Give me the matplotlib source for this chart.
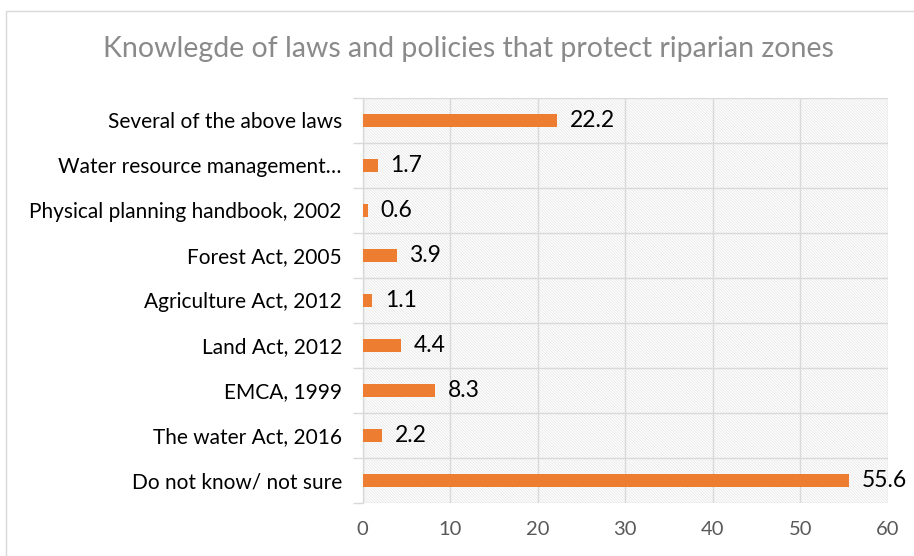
import matplotlib
matplotlib.use("Agg")
import matplotlib.pyplot as plt
from matplotlib.patches import Rectangle

categories = [
    "Do not know/ not sure",
    "The water Act, 2016",
    "EMCA, 1999",
    "Land Act, 2012",
    "Agriculture Act, 2012",
    "Forest Act, 2005",
    "Physical planning handbook, 2002",
    "Water resource management\u2026",
    "Several of the above laws",
]
values = [55.6, 2.2, 8.3, 4.4, 1.1, 3.9, 0.6, 1.7, 22.2]
x_ticks = [0, 10, 20, 30, 40, 50, 60]

W, H = 914, 556
fig = plt.figure(figsize=(W / 100, H / 100), dpi=100)
plt.rcParams["font.family"] = ["Lato", "DejaVu Sans"]
plt.rcParams["hatch.color"] = "#e4e4e4"
plt.rcParams["hatch.linewidth"] = 0.5

# chart frame
fig.patches.append(Rectangle((6 / W, -0.01), 1.0, 1 - 11 / H + 0.01,
                             transform=fig.transFigure, fill=False,
                             edgecolor="#d9d9d9", linewidth=1.0))

left, right, top, bottom = 362.7, 887.7, 98, 502.7
ax = fig.add_axes([left / W, 1 - bottom / H, (right - left) / W, (bottom - top) / H])

# finely hatched plot background
ax.add_patch(Rectangle((0, 0), 1, 1, transform=ax.transAxes, facecolor="white",
                       hatch="\\" * 12, edgecolor="#e4e4e4", linewidth=0, zorder=0))

y = list(range(len(categories)))
ax.barh(y, values, height=0.29, color="#ED7D31", zorder=3)
for yi, v in zip(y, values):
    ax.text(v + 1.45, yi, f"{v}", va="center", ha="left", fontsize=16.5,
            color="black", zorder=4)

ax.set_xlim(0, 60)
ax.set_ylim(-0.5, len(categories) - 0.5)
ax.set_xticks(x_ticks)
ax.set_xticklabels([str(t) for t in x_ticks], fontsize=14.5, color="#595959")
ax.set_yticks(y)
ax.set_yticklabels(categories, fontsize=15, color="black")
ax.set_yticks([i - 0.5 for i in range(len(categories) + 1)], minor=True)

ax.grid(axis="x", color="#d9d9d9", linewidth=1.0, zorder=1)
ax.grid(axis="y", which="minor", color="#d9d9d9", linewidth=1.0, zorder=1)
ax.set_axisbelow(True)

ax.tick_params(axis="x", length=0, pad=13)
ax.tick_params(axis="y", which="major", length=0, pad=15)
ax.tick_params(axis="y", which="minor", length=7, color="#d9d9d9", width=1)

for s in ["top", "right", "bottom"]:
    ax.spines[s].set_visible(False)
ax.spines["left"].set_color("#d9d9d9")
ax.spines["left"].set_linewidth(1.0)

fig.text(468 / W, 1 - 49 / H, "Knowlegde of laws and policies that protect riparian zones",
         ha="center", va="center", fontsize=20.5, color="#8a8a8a")

fig.savefig("out.png", dpi=100)
